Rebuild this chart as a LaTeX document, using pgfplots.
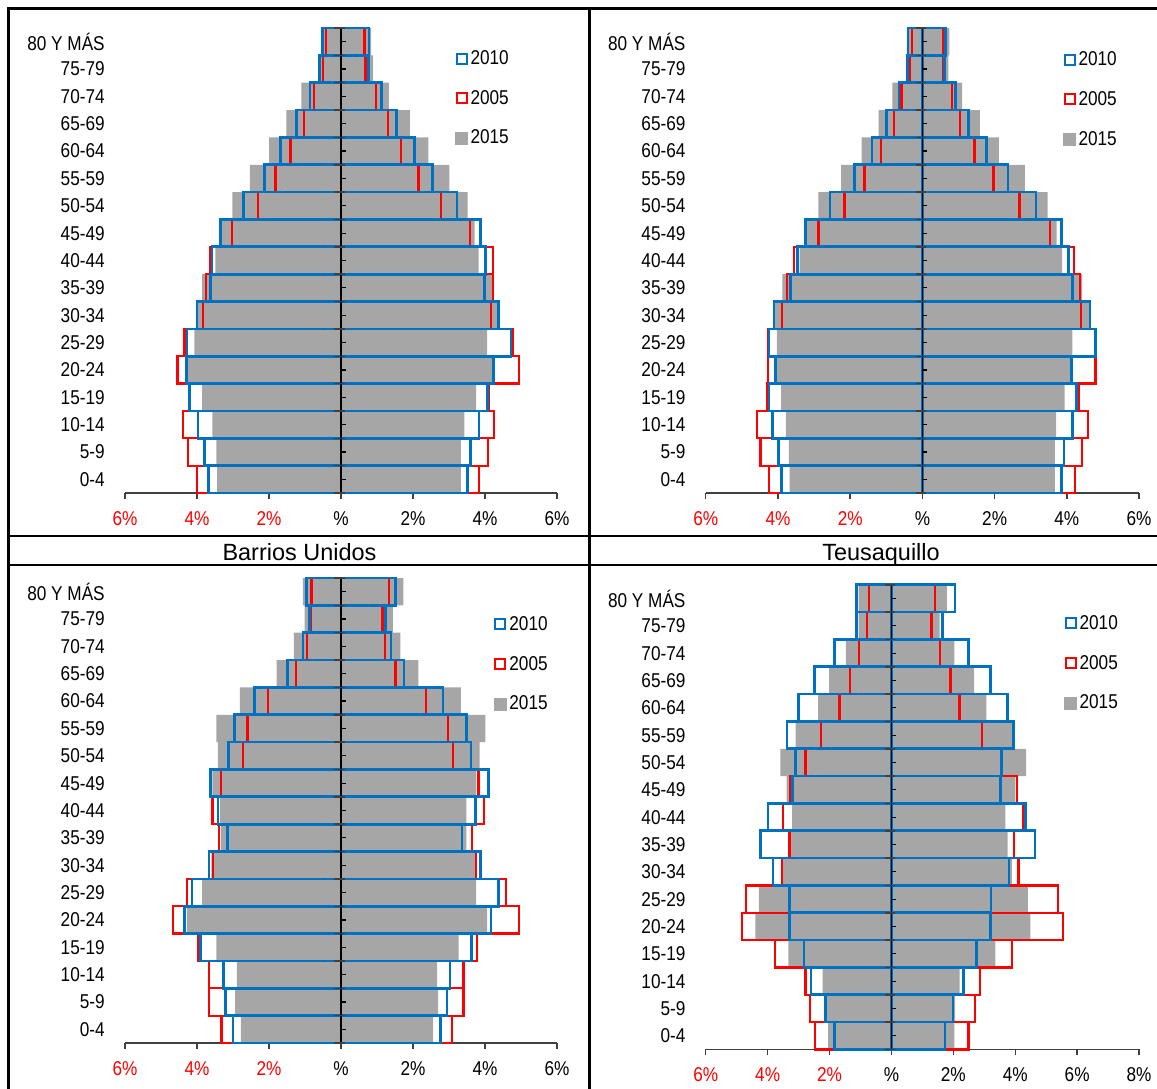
\documentclass[border=0pt]{standalone}
\usepackage{pgfplots}
\pgfplotsset{compat=1.18}
\usepackage{pgfplotstable}
\usepackage{fontspec}
\setmainfont{Liberation Sans}
\newfontfamily\narrow[FakeStretch=0.86]{Liberation Sans}

\definecolor{cb}{HTML}{0070C0}
\definecolor{cr}{HTML}{FF0000}
\definecolor{cg}{HTML}{A6A6A6}
\definecolor{cax}{HTML}{404040}

% columns: y (0 = 0-4 ... 16 = 80 y mas), 2015 (g), 2005 (r), 2010 (b); L = left, R = right
\pgfplotstableread{
y gL gR rL rR bL bR
0 -3.44 3.33 -4.00 3.83 -3.68 3.52
1 -3.46 3.33 -4.25 4.09 -3.79 3.59
2 -3.57 3.43 -4.39 4.24 -3.97 3.83
3 -3.86 3.75 -4.23 4.11 -4.21 4.07
4 -4.28 4.22 -4.54 4.95 -4.30 4.24
5 -4.07 4.06 -4.35 4.76 -4.28 4.72
6 -3.97 4.34 -3.83 4.17 -4.00 4.38
7 -3.86 4.19 -3.76 4.22 -3.62 3.98
8 -3.49 3.82 -3.63 4.22 -3.58 4.01
9 -3.30 3.71 -3.02 3.59 -3.34 3.87
10 -3.02 3.52 -2.31 2.77 -2.71 3.22
11 -2.53 3.01 -1.82 2.15 -2.13 2.54
12 -2.00 2.43 -1.40 1.66 -1.68 2.05
13 -1.52 1.91 -1.03 1.30 -1.24 1.54
14 -1.10 1.33 -0.76 0.97 -0.86 1.12
15 -0.63 0.89 -0.50 0.68 -0.59 0.76
16 -0.56 0.84 -0.42 0.65 -0.52 0.78
}\TL

\pgfplotstableread{
y gL gR rL rR bL bR
0 -3.68 3.67 -4.25 4.22 -3.91 3.85
1 -3.70 3.67 -4.48 4.42 -3.98 3.92
2 -3.78 3.70 -4.58 4.58 -4.15 4.15
3 -3.91 3.94 -4.31 4.32 -4.25 4.27
4 -4.02 4.10 -4.28 4.79 -4.06 4.12
5 -4.03 4.15 -4.28 4.79 -4.25 4.79
6 -4.08 4.62 -3.88 4.39 -4.11 4.64
7 -3.88 4.42 -3.75 4.37 -3.65 4.15
8 -3.40 3.87 -3.55 4.20 -3.46 4.05
9 -3.20 3.72 -2.88 3.54 -3.23 3.85
10 -2.88 3.47 -2.16 2.69 -2.56 3.15
11 -2.25 2.84 -1.60 1.97 -1.88 2.37
12 -1.68 2.12 -1.14 1.44 -1.40 1.77
13 -1.21 1.59 -0.78 1.05 -1.00 1.27
14 -0.83 1.10 -0.58 0.82 -0.65 0.92
15 -0.46 0.72 -0.35 0.57 -0.42 0.62
16 -0.43 0.75 -0.28 0.57 -0.40 0.64
}\TR

\pgfplotstableread{
y gL gR rL rR bL bR
0 -2.78 2.56 -3.32 3.08 -3.00 2.77
1 -2.94 2.70 -3.67 3.40 -3.21 2.94
2 -2.89 2.67 -3.67 3.40 -3.26 3.03
3 -3.46 3.27 -3.97 3.77 -3.91 3.62
4 -4.28 4.06 -4.67 4.95 -4.35 4.17
5 -3.86 3.75 -4.28 4.59 -4.14 4.38
6 -3.60 3.75 -3.55 3.75 -3.67 3.87
7 -3.34 3.48 -3.39 3.64 -3.16 3.36
8 -3.36 3.48 -3.57 3.98 -3.42 3.73
9 -3.57 3.75 -3.34 3.82 -3.63 4.09
10 -3.42 3.85 -2.73 3.12 -3.13 3.61
11 -3.46 4.01 -2.60 2.98 -2.95 3.48
12 -2.81 3.33 -2.03 2.36 -2.41 2.83
13 -1.79 2.15 -1.24 1.51 -1.48 1.75
14 -1.31 1.65 -0.94 1.23 -1.06 1.39
15 -1.01 1.44 -0.84 1.15 -0.87 1.23
16 -1.06 1.73 -0.82 1.33 -0.95 1.51
}\BL

\pgfplotstableread{
y gL gR rL rR bL bR
0 -2.05 2.03 -2.46 2.49 -1.84 1.73
1 -2.11 2.06 -2.63 2.69 -2.14 1.99
2 -2.22 2.20 -2.78 2.86 -2.60 2.32
3 -3.33 3.36 -3.77 3.89 -2.83 2.75
4 -4.40 4.49 -4.82 5.54 -3.29 3.19
5 -4.28 4.41 -4.69 5.38 -3.29 3.22
6 -3.56 3.89 -3.54 4.10 -3.83 3.80
7 -3.25 3.75 -3.29 3.95 -4.24 4.64
8 -3.21 3.68 -3.50 4.26 -3.99 4.33
9 -3.39 4.00 -3.27 4.06 -3.19 3.52
10 -3.59 4.35 -2.78 3.56 -3.10 3.56
11 -3.10 3.89 -2.28 2.93 -3.38 3.95
12 -2.37 3.07 -1.68 2.20 -3.00 3.74
13 -2.01 2.67 -1.35 1.91 -2.49 3.19
14 -1.47 2.03 -1.06 1.58 -1.84 2.49
15 -1.06 1.56 -0.80 1.29 -1.14 1.65
16 -1.06 1.79 -0.73 1.41 -1.14 2.05
}\BR

\pgfplotsset{
 pyr/.style={
  scale only axis, width=324pt, height=348.75pt,
  ymin=-0.5, ymax=16.5, xmin=-6, xmax=6,
  axis x line=bottom, axis y line=left,
  x axis line style={-, draw=cax, line width=1.1pt},
  y axis line style={draw=none},
  tick align=outside, major tick length=4.5pt,
  xtick style={draw=cax, line width=1.1pt},
  ytick style={draw=none},
  ytick={0,...,16},
  yticklabels={0-4,5-9,10-14,15-19,20-24,25-29,30-34,35-39,40-44,45-49,50-54,55-59,60-64,65-69,70-74,75-79,80 Y MÁS},
  tick label style={font=\narrow\fontsize{15}{18}\selectfont, text=black},
  yticklabel style={inner sep=0pt, anchor=east, xshift=-10.5pt},
  xticklabel style={inner sep=0pt, anchor=north, yshift=-9pt},
  xtick={-6,-4,...,6},
  xticklabels={\textcolor{cr}{6\%},\textcolor{cr}{4\%},\textcolor{cr}{2\%},\%,2\%,4\%,6\%},
  legend cell align=left,
  legend style={draw=none, fill=none, inner sep=0pt, row sep=17.8pt, column sep=2pt,
    anchor=north west, nodes={inner sep=0pt},
    font=\narrow\fontsize{15}{18}\selectfont},
  clip=false,
 },
 gbar/.style={xbar, bar width=1, bar shift=0pt, fill=cg, draw=none, forget plot},
 rbar/.style={xbar, bar width=1, bar shift=0pt, fill=none, draw=cr, line width=1.7pt, line join=miter, forget plot},
 bbar/.style={xbar, bar width=1, bar shift=0pt, fill=none, draw=cb, line width=2pt, line join=miter, forget plot},
}

\newcommand\legs{%
 \addlegendimage{legend image code/.code={\draw[cb, line width=1.5pt] (0pt,-3.75pt) rectangle (7.5pt,3.75pt);}}
 \addlegendentry{2010}
 \addlegendimage{legend image code/.code={\draw[cr, line width=1.5pt] (0pt,-3.75pt) rectangle (7.5pt,3.75pt);}}
 \addlegendentry{2005}
 \addlegendimage{legend image code/.code={\fill[cg] (-0.75pt,-4.5pt) rectangle (8.25pt,4.5pt);}}
 \addlegendentry{2015}
}

\newcommand\bars[1]{%
 \addplot[gbar] table[x=gL,y=y]{#1};
 \addplot[gbar] table[x=gR,y=y]{#1};
 \addplot[rbar] table[x=rL,y=y]{#1};
 \addplot[rbar] table[x=rR,y=y]{#1};
 \addplot[bbar] table[x=bL,y=y]{#1};
 \addplot[bbar] table[x=bR,y=y]{#1};
 \draw[black, line width=1.1pt] (axis cs:0,-0.5) -- (axis cs:0,16.5);
 \pgfplotsinvokeforeach{0,...,16}{\draw[black, line width=0.9pt] (axis cs:0,##1) -- ++(3.5pt,0pt);}
 \pgfplotsinvokeforeach{-0.5,0.5,...,16.5}{\draw[cax, line width=1.1pt] (axis cs:0,##1) ++(-5pt,0pt) -- ++(8pt,0pt);}
}

\begin{document}
\begin{tikzpicture}
\useasboundingbox (0,0) rectangle (867.75pt,-816.75pt);
\draw[black, line width=1.6pt] (6.4pt,-816.75pt) -- (6.4pt,-6.4pt) -- (867.75pt,-6.4pt);
\draw[black, line width=1.6pt] (442.1pt,-6.4pt) -- (442.1pt,-816.75pt);
\draw[black, line width=1.6pt] (6.4pt,-402pt) -- (867.75pt,-402pt);
\draw[black, line width=1.6pt] (6.4pt,-423.75pt) -- (867.75pt,-423.75pt);
\node[anchor=base, inner sep=0pt, font=\fontsize{17.6}{20}\selectfont] at (224.6pt,-420.2pt) {Barrios Unidos};
\node[anchor=base, inner sep=0pt, font=\fontsize{17.6}{20}\selectfont] at (660.75pt,-420.2pt) {Teusaquillo};

% top left
\begin{axis}[pyr, at={(93.75pt,-369.75pt)}, anchor=south west,
  legend style={at={(0.764,0.952)}}]
\legs
\bars{\TL}
\end{axis}

% top right
\begin{axis}[pyr, width=325pt, at={(529.3pt,-369.75pt)}, anchor=south west,
  legend style={at={(0.8246,0.9497)}}]
\legs
\bars{\TR}
\end{axis}

% bottom left
\begin{axis}[pyr, at={(93.75pt,-782.25pt)}, anchor=south west,
  legend style={at={(0.854,0.918)}}]
\legs
\bars{\BL}
\end{axis}

% bottom right
\begin{axis}[pyr, width=325pt, height=348.5pt, at={(529.3pt,-787.1pt)}, anchor=south west,
  xmin=-6, xmax=8, xtick={-6,-4,...,8},
  xticklabels={\textcolor{cr}{6\%},\textcolor{cr}{4\%},\textcolor{cr}{2\%},\%,2\%,4\%,6\%,8\%},
  legend style={at={(0.827,0.9346)}}]
\legs
\bars{\BR}
\end{axis}
\end{tikzpicture}
\end{document}
